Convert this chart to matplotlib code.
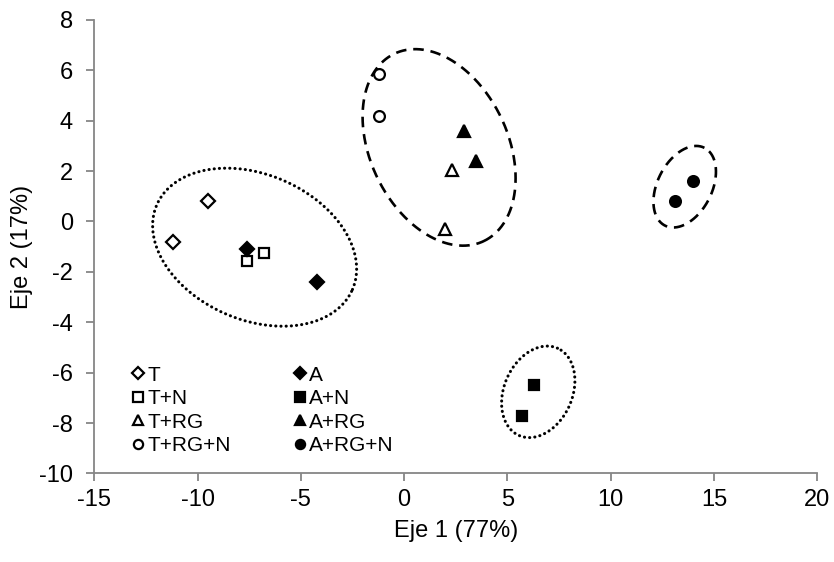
import numpy as np
import matplotlib
matplotlib.use('Agg')
import matplotlib.pyplot as plt

plt.rcParams['font.family'] = ['Liberation Sans', 'DejaVu Sans']
plt.rcParams['axes.unicode_minus'] = False

# PCA scores per treatment (two replicates each)
groups = ['T', 'T+N', 'T+RG', 'T+RG+N', 'A', 'A+N', 'A+RG', 'A+RG+N']
eje1 = {
    'T': [-11.2, -9.5],
    'T+N': [-7.6, -6.8],
    'T+RG': [2.3, 2.0],
    'T+RG+N': [-1.2, -1.2],
    'A': [-7.6, -4.2],
    'A+N': [6.3, 5.7],
    'A+RG': [2.9, 3.5],
    'A+RG+N': [14.0, 13.1],
}
eje2 = {
    'T': [-0.8, 0.8],
    'T+N': [-1.55, -1.25],
    'T+RG': [2.05, -0.3],
    'T+RG+N': [5.85, 4.2],
    'A': [-1.1, -2.4],
    'A+N': [-6.5, -7.7],
    'A+RG': [3.6, 2.4],
    'A+RG+N': [1.6, 0.8],
}
markers = {'T': 'D', 'A': 'D', 'T+N': 's', 'A+N': 's',
           'T+RG': '^', 'A+RG': '^', 'T+RG+N': 'o', 'A+RG+N': 'o'}
sizes = {'D': 7.3, 's': 7.8, '^': 8.4, 'o': 7.8}

fig = plt.figure(figsize=(8.34, 5.62), dpi=100)
ax = fig.add_axes([0.1131, 0.1575, 0.8669, 0.8071])
ax.set_xlim(-15, 20)
ax.set_ylim(-10, 8)

for g in groups:
    m = markers[g]
    face = 'white' if g.startswith('T') else 'black'
    ax.plot(eje1[g], eje2[g], linestyle='none', marker=m, markersize=sizes[m],
            markerfacecolor=face, markeredgecolor='black', markeredgewidth=1.6,
            label=g)

# group ellipses: centre (data), semi-axes (px), angle (deg), style
px_x = ax.transData.transform((1, 0))[0] - ax.transData.transform((0, 0))[0]
px_y = ax.transData.transform((0, 1))[1] - ax.transData.transform((0, 0))[1]
ellipses = [
    ((-7.24, -1.02), 106.6, 72.7, -23.4, 'dot'),
    ((1.69, 2.94), 103.8, 68.8, -64.5, 'dash'),
    ((13.58, 1.38), 43.6, 27.2, 63.1, 'dash'),
    ((6.49, -6.76), 47.7, 34.1, 66.2, 'dot'),
]
t = np.linspace(0, 2 * np.pi, 400)
for (cx, cy), a, b, ang, style in ellipses:
    th = np.deg2rad(ang)
    dx = a * np.cos(t) * np.cos(th) - b * np.sin(t) * np.sin(th)
    dy = a * np.cos(t) * np.sin(th) + b * np.sin(t) * np.cos(th)
    if style == 'dot':
        ax.plot(cx + dx / px_x, cy + dy / px_y, color='black', linewidth=2.2,
                linestyle=(0, (0.05, 1.65)), dash_capstyle='round')
    else:
        ax.plot(cx + dx / px_x, cy + dy / px_y, color='black', linewidth=1.9,
                linestyle=(0, (4.0, 2.6)))

ax.set_xticks(np.arange(-15, 21, 5))
ax.set_yticks(np.arange(-10, 9, 2))
for s in ['top', 'right']:
    ax.spines[s].set_visible(False)
for s in ['left', 'bottom']:
    ax.spines[s].set_color('#868686')
    ax.spines[s].set_linewidth(1.3)
ax.tick_params(axis='both', colors='#868686', labelcolor='black',
               labelsize=17, length=5.5, width=1.3)
ax.tick_params(axis='y', pad=10)
ax.tick_params(axis='x', pad=6)

ax.set_xlabel('Eje 1 (77%)', fontsize=17, labelpad=6)
ax.set_ylabel('Eje 2 (17%)', fontsize=17, labelpad=4)

ax.legend(ncol=2, loc='lower left', bbox_to_anchor=(0.052, 0.04),
          frameon=False, fontsize=15, handlelength=0.6, handletextpad=0.15,
          columnspacing=3.0, labelspacing=0.22, borderpad=0,
          borderaxespad=0, markerscale=0.85)

fig.savefig('out.png', dpi=100)
